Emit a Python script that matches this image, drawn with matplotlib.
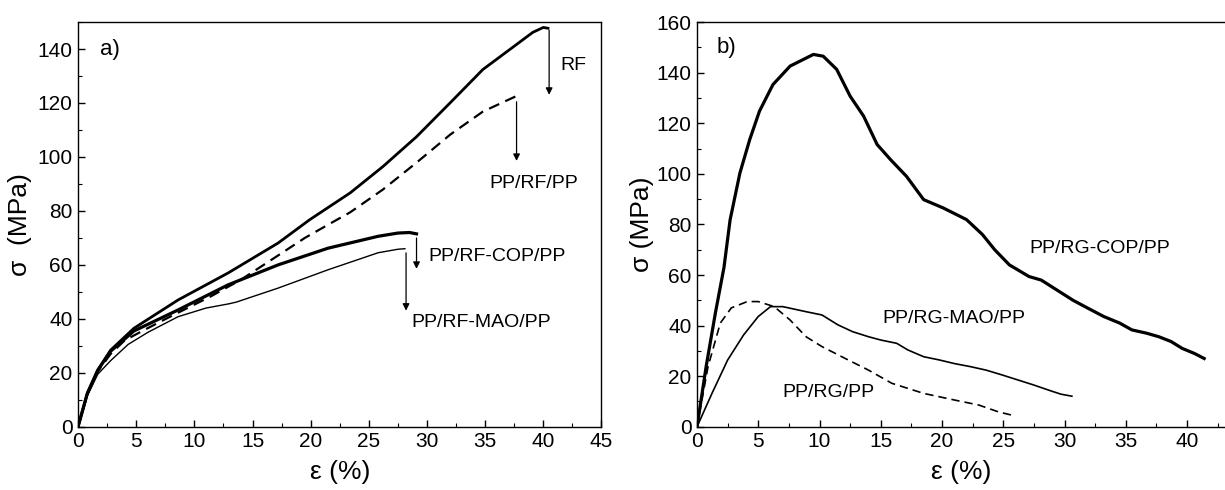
import numpy as np
import matplotlib
matplotlib.use("Agg")
import matplotlib.pyplot as plt
from matplotlib.ticker import MultipleLocator

plt.rcParams['font.family'] = ['Liberation Sans', 'DejaVu Sans']

# ---- panel a) data (strain %, stress MPa) ----
rf_x = [0, 0.8, 1.7, 2.8, 4.8, 8.6, 12.9, 17.2, 19.9, 23.4, 26.2, 29.1, 32, 34.8, 37.7, 39.1, 40, 40.4]
rf_y = [0, 12.4, 21, 28.4, 36.5, 47, 57, 68.1, 76.7, 86.7, 96.4, 107.5, 120.1, 132.4, 141.7, 146.2, 148, 147.7]

rfpp_x = [0, 0.8, 1.7, 2.8, 4, 5.7, 8, 11.4, 14, 17.2, 19.5, 21.5, 23.4, 26.2, 29.1, 32, 34.8, 37.6]
rfpp_y = [0, 12, 20.5, 27, 32, 35.9, 41, 48.3, 54.5, 63.5, 70, 74.9, 79.5, 87.9, 97.9, 108.3, 116.8, 122.4]

cop_x = [0, 0.8, 1.7, 2.8, 4.8, 8.6, 12.9, 17.2, 21.5, 25.8, 27.5, 28.5, 29.1]
cop_y = [0, 12.4, 21, 28, 35.5, 43.3, 52.6, 60, 66.2, 70.6, 71.8, 72, 71.5]

mao_x = [0, 0.8, 1.7, 2.8, 4.3, 6, 8.6, 11, 13, 13.6, 17.2, 21.5, 25.8, 27.5, 28.1]
mao_y = [0, 11.5, 19.5, 24.5, 30.5, 35, 40.8, 44, 45.6, 46.2, 51.4, 58.2, 64.5, 65.8, 66]

# ---- panel b) data ----
gcop_x = [0, 0.75, 1.5, 2.2, 2.7, 3.5, 4.3, 5.1, 6.2, 7.6, 9.5, 10.3, 11.4, 12.5, 13.6, 14.7, 15.8, 17.1, 18.5,
          20.1, 22, 23.3, 24.3, 25.5, 27.1, 28.1, 29.4, 30.7, 31.9, 33.2, 34.5, 35.5, 36.7, 37.7, 38.7,
          39.6, 40.6, 41.4]
gcop_y = [0, 24, 45, 63, 81.8, 100.3, 113.5, 124.8, 135.3, 142.6, 147.2, 146.5, 141.3, 130.7, 122.8, 111.6, 105.6, 99, 89.8,
          86.5, 81.9, 76, 70, 64, 59.4, 58, 54, 50, 46.9, 43.6, 41, 38.3, 37, 35.6, 33.7,
          31, 29, 27]

gmao_x = [0, 1.2, 2.5, 3.8, 5, 6, 7, 8.9, 10.2, 11.5, 12.7, 14, 15, 16.3, 17.2, 18.5, 19.8, 21, 22.3,
          23.6, 24.9, 26.2, 27.5, 28.7, 29.7, 30.6]
gmao_y = [0, 13, 26.4, 36.3, 43.6, 47.5, 47.5, 45.5, 44.2, 40.3, 37.6, 35.6, 34.3, 33, 30.4, 27.7, 26.4, 25, 23.8,
          22.4, 20.5, 18.5, 16.5, 14.5, 12.9, 12.1]

gpp_x = [0, 0.9, 1.9, 2.8, 4.1, 5, 6.3, 7.6, 8.9, 10.2, 12.1, 14, 15.9, 18.5, 21, 23, 24.6, 25.7]
gpp_y = [0, 23.8, 41, 47, 49.5, 49.5, 47.5, 42.2, 35.6, 31.7, 27, 22.4, 17.2, 13.2, 10.6, 8.6, 5.9, 4.6]

fig = plt.figure(figsize=(12.25, 4.9), dpi=100)
axA = fig.add_axes([0.0637, 0.129, 0.4273, 0.826])
axB = fig.add_axes([0.569, 0.129, 0.431, 0.826])

thick = 2.0
thin = 1.0

axA.plot(rf_x, rf_y, color='k', lw=thick)
axA.plot(rfpp_x, rfpp_y, color='k', lw=1.6, ls=(0, (5, 3)))
axA.plot(cop_x, cop_y, color='k', lw=thick + 0.3)
axA.plot(mao_x, mao_y, color='k', lw=thin)

arrow = dict(arrowstyle='-|>', color='k', lw=0.9, mutation_scale=10)
axA.annotate('', xy=(40.5, 122), xytext=(40.5, 148), arrowprops=arrow)
axA.annotate('', xy=(37.7, 97.5), xytext=(37.7, 121.5), arrowprops=arrow)
axA.annotate('', xy=(29.1, 57.5), xytext=(29.1, 71), arrowprops=arrow)
axA.annotate('', xy=(28.2, 42), xytext=(28.2, 65.5), arrowprops=arrow)

tsz = 14
axA.text(41.5, 134, 'RF', fontsize=tsz, va='center')
axA.text(35.4, 90, 'PP/RF/PP', fontsize=tsz, va='center')
axA.text(30.1, 63, 'PP/RF-COP/PP', fontsize=tsz, va='center')
axA.text(28.7, 38.5, 'PP/RF-MAO/PP', fontsize=tsz, va='center')
axA.text(1.9, 140, 'a)', fontsize=16, va='center')

axA.set_xlim(0, 45)
axA.set_ylim(0, 150)
axA.xaxis.set_major_locator(MultipleLocator(5))
axA.xaxis.set_minor_locator(MultipleLocator(2.5))
axA.yaxis.set_major_locator(MultipleLocator(20))
axA.yaxis.set_minor_locator(MultipleLocator(10))

axB.plot(gcop_x, gcop_y, color='k', lw=thick + 0.3)
axB.plot(gmao_x, gmao_y, color='k', lw=thin + 0.2)
axB.plot(gpp_x, gpp_y, color='k', lw=1.2, ls=(0, (5, 3)))

axB.text(27.1, 70.6, 'PP/RG-COP/PP', fontsize=tsz, va='center')
axB.text(15.1, 43, 'PP/RG-MAO/PP', fontsize=tsz, va='center')
axB.text(7.0, 13.5, 'PP/RG/PP', fontsize=tsz, va='center')
axB.text(1.6, 150, 'b)', fontsize=16, va='center')

axB.set_xlim(0, 43.1)
axB.set_ylim(0, 160)
axB.xaxis.set_major_locator(MultipleLocator(5))
axB.xaxis.set_minor_locator(MultipleLocator(2.5))
axB.yaxis.set_major_locator(MultipleLocator(20))
axB.yaxis.set_minor_locator(MultipleLocator(10))
axB.spines['right'].set_visible(False)

for ax in (axA, axB):
    ax.tick_params(which='both', direction='in', top=False, right=False, labelsize=15, pad=4)
    ax.tick_params(which='major', length=5, width=1)
    ax.tick_params(which='minor', length=3, width=0.8)
    for s in ax.spines.values():
        s.set_linewidth(1.0)
    ax.set_xlabel('ε (%)', fontsize=19, labelpad=6)

axA.set_ylabel('σ  (MPa)', fontsize=19, labelpad=4)
axB.set_ylabel('σ (MPa)', fontsize=19, labelpad=2)

fig.savefig('out.png', dpi=100)
